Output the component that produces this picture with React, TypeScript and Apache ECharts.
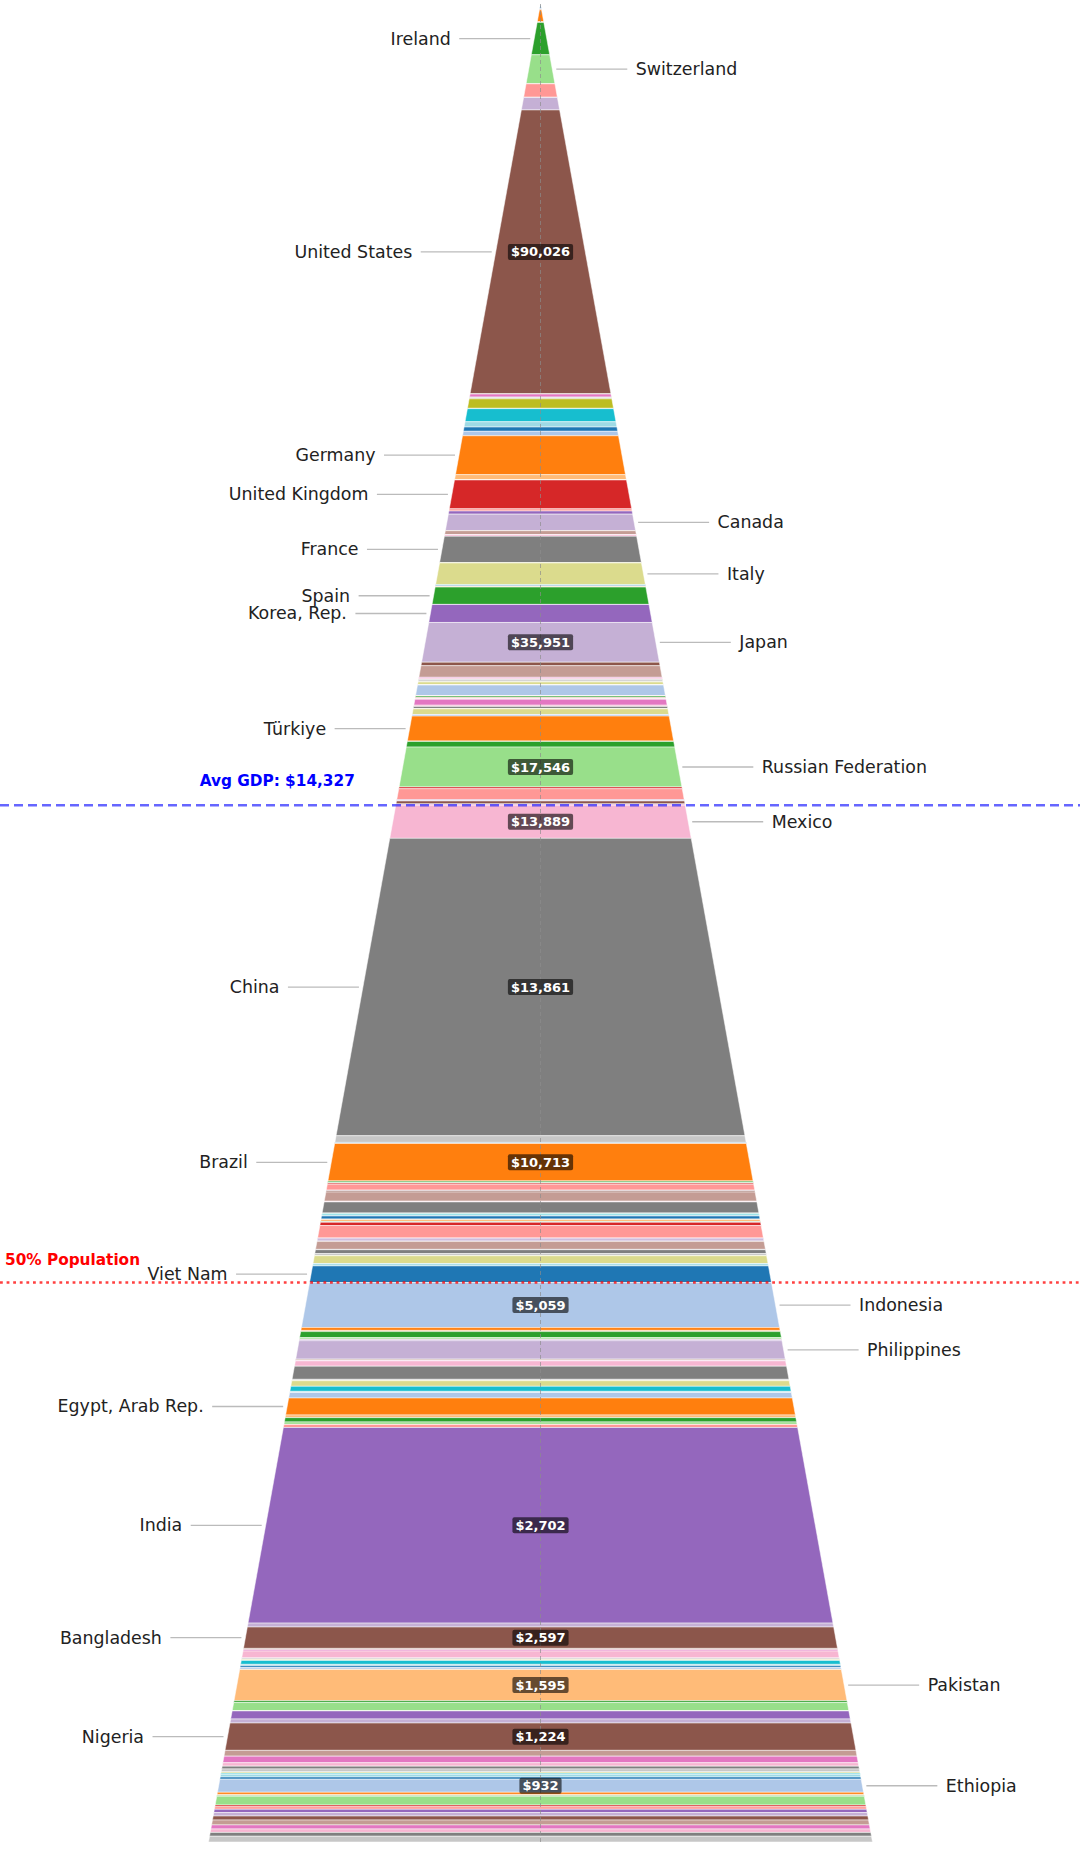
import React, { useEffect, useRef } from "react";
import * as echarts from "echarts";

// Countries ordered by GDP per capita (descending) with population in millions
const bands: [string, number][] = [
  // 0
  ["Monaco", 0.04], ["Liechtenstein", 0.04], ["Luxembourg", 0.66], ["Bermuda", 0.06], ["Ireland", 5.3],
  ["Switzerland", 8.9], ["Cayman Islands", 0.07], ["Norway", 5.5], ["Isle of Man", 0.08], ["Singapore", 5.9],
  // 10
  ["United States", 333], ["Iceland", 0.4], ["Denmark", 5.9], ["Channel Islands", 0.17], ["Faroe Islands", 0.05],
  ["Qatar", 2.7], ["Netherlands", 17.9], ["Macao SAR, China", 0.7], ["Australia", 25.5], ["Sweden", 10.5],
  // 20
  ["Israel", 8.5], ["Austria", 9.1], ["Germany", 83], ["Belgium", 11.8], ["Andorra", 0.08],
  ["Greenland", 0.06], ["United Kingdom", 67], ["New Zealand", 5.2], ["Hong Kong SAR, China", 7.5], ["Canada", 40.1],
  // 30
  ["Malta", 0.53], ["United Arab Emirates", 9.5], ["San Marino", 0.03], ["Kuwait", 4.3], ["France", 68.2],
  ["Bahamas, The", 0.41], ["Brunei Darussalam", 0.45], ["Italy", 58.8], ["Cyprus", 1.3], ["Aruba", 0.11],
  // 40
  ["Slovenia", 2.1], ["Bahrain", 1.5], ["Estonia", 1.37], ["Sint Maarten (Dutch part)", 0.04], ["Spain", 48.4],
  ["Guam", 0.17], ["Turks and Caicos Islands", 0.05], ["Virgin Islands (U.S.)", 0.1], ["Korea, Rep.", 51.7], ["Japan", 120],
  // 50
  ["Czechia", 10.9], ["Poland", 36.7], ["Lithuania", 2.9], ["Croatia", 3.9], ["Latvia", 1.9],
  ["Slovak Republic", 5.4], ["Guyana", 0.8], ["Hungary", 9.6], ["Seychelles", 0.1], ["Antigua and Barbuda", 0.09],
  // 60
  ["Barbados", 0.28], ["Saudi Arabia", 35], ["St. Kitts and Nevis", 0.05], ["Palau", 0.02], ["Panama", 4.5],
  ["Mauritius", 1.3], ["Uruguay", 3.4], ["Trinidad and Tobago", 1.5], ["St. Lucia", 0.18], ["Grenada", 0.13],
  // 70
  ["Dominica", 0.07], ["Nauru", 0.01], ["Chile", 19.6], ["Oman", 4.6], ["Bulgaria", 6.4],
  ["Montenegro", 0.62], ["Maldives", 0.52], ["Romania", 19], ["St. Vincent and the Grenadines", 0.1], ["Marshall Islands", 0.04],
  // 80
  ["Tuvalu", 0.01], ["Costa Rica", 5.2], ["Türkiye", 85.3], ["Equatorial Guinea", 1.7], ["Kazakhstan", 19.6],
  ["Russian Federation", 143.8], ["Serbia", 6.6], ["Argentina", 41], ["Botswana", 2.6], ["Gabon", 2.4],
  // 90
  ["Dominican Republic", 11.3], ["Suriname", 0.62], ["Georgia", 3.7], ["Mexico", 128.5], ["China", 1383],
  ["Malaysia", 36], ["Curaçao", 0.15], ["French Polynesia", 0.28], ["New Caledonia", 0.27], ["Northern Mariana Islands", 0.05],
  // 100
  ["Bosnia and Herzegovina", 3.2], ["North Macedonia", 1.8], ["Brazil", 206], ["Belize", 0.41], ["Belarus", 9.5],
  ["Tonga", 0.1], ["Libya", 7], ["Peru", 34.4], ["Kiribati", 0.13], ["Jamaica", 2.8],
  // 110
  ["Paraguay", 6.9], ["Colombia", 52.1], ["Fiji", 0.94], ["Armenia", 2.8], ["South Africa", 64],
  ["Samoa", 0.22], ["Namibia", 2.6], ["Bhutan", 0.79], ["El Salvador", 6.3], ["Turkmenistan", 6.5],
  // 120
  ["Guatemala", 18], ["Solomon Islands", 0.74], ["Eswatini", 1.2], ["Cuba", 11.2], ["Albania", 2.8],
  ["Moldova", 2.5], ["Ecuador", 18.3], ["Thailand", 71.8], ["Lebanon", 5.4], ["Tunisia", 12.5],
  // 130
  ["Mongolia", 3.4], ["Iraq", 46], ["Timor-Leste", 1.4], ["Cabo Verde", 0.6], ["Sri Lanka", 23],
  ["Jordan", 11.5], ["Djibouti", 1.1], ["Algeria", 46], ["Kosovo", 1.8], ["Bolivia", 12.5],
  // 140
  ["Viet Nam", 100], ["Indonesia", 277.5], ["Cambodia", 17.4], ["Lao PDR", 7.7], ["Morocco", 37.8],
  ["Papua New Guinea", 10.3], ["Comoros", 0.85], ["Lesotho", 2.3], ["Congo, Rep.", 6.1], ["Philippines", 117.3],
  // 150
  ["Mauritania", 4.9], ["Eritrea", 3.7], ["Gambia, The", 2.7], ["Ghana", 34.1], ["Iran, Islamic Rep.", 85],
  ["Kyrgyz Republic", 7.1], ["Guinea-Bissau", 2.1], ["Uzbekistan", 36.4], ["Angola", 33], ["Nicaragua", 6.8],
  // 160
  ["Vanuatu", 0.33], ["Ukraine", 36.7], ["Egypt, Arab Rep.", 112.7], ["Senegal", 17.8], ["Cameroon", 28.6],
  ["Zimbabwe", 16.7], ["Micronesia, Fed. Sts.", 0.11], ["Zambia", 20.6], ["India", 1408], ["Syrian Arab Republic", 30],
  // 170
  ["Bangladesh", 165], ["Honduras", 10.6], ["Tajikistan", 10.1], ["Kenya", 55.1], ["Sao Tome and Principe", 0.23],
  ["Togo", 9.1], ["Puerto Rico", 3.2], ["Finland", 5.6], ["Nepal", 30.9], ["Haiti", 11.7],
  // 180
  ["Benin", 13.7], ["Guinea", 14.2], ["Gibraltar", 0.03], ["Pakistan", 250], ["Rwanda", 14.1],
  ["Tanzania", 67.4], ["American Samoa", 0.04], ["British Virgin Islands", 0.03], ["Uganda", 65], ["Côte d'Ivoire", 33],
  // 190
  ["Nigeria", 223.8], ["Sudan", 48.1], ["Myanmar", 54.6], ["Venezuela, RB", 28.3], ["Mali", 23.3],
  ["Korea, Dem. People's Rep.", 26.2], ["St. Martin (French part)", 0.03], ["Azerbaijan", 10.1], ["Sierra Leone", 8.8], ["Burkina Faso", 22.7],
  // 200
  ["Chad", 18.3], ["Ethiopia", 110], ["Somalia", 18.1], ["Greece", 10.4], ["West Bank and Gaza", 5.2],
  ["Congo, Dem. Rep.", 75], ["South Sudan", 14], ["Malawi", 22], ["Niger", 28], ["Madagascar", 30],
  // 210
  ["Mozambique", 34], ["Afghanistan", 42], ["Yemen, Rep.", 35], ["Liberia", 30], ["Central African Republic", 33],
  ["Burundi", 50],
];

const leftLabels = [
  "Ireland", "United States", "Germany", "United Kingdom", "France", "Spain", "Korea, Rep.",
  "Türkiye", "China", "Brazil", "Viet Nam", "Egypt, Arab Rep.", "India", "Bangladesh", "Nigeria",
];
const rightLabels = [
  "Switzerland", "Canada", "Italy", "Japan", "Russian Federation", "Mexico",
  "Indonesia", "Philippines", "Pakistan", "Ethiopia",
];

const valueCountries = [
  "United States", "Japan", "Russian Federation", "Mexico", "China", "Brazil",
  "Indonesia", "India", "Bangladesh", "Pakistan", "Nigeria", "Ethiopia",
];
const valueGdp = [90026, 35951, 17546, 13889, 13861, 10713, 5059, 2702, 2597, 1595, 1224, 932];
const avgGdp = 14327;

const tab20 = [
  "#1f77b4", "#aec7e8", "#ff7f0e", "#ffbb78", "#2ca02c", "#98df8a", "#d62728", "#ff9896",
  "#9467bd", "#c5b0d5", "#8c564b", "#c49c94", "#e377c2", "#f7b6d2", "#7f7f7f", "#c7c7c7",
  "#bcbd22", "#dbdb8d", "#17becf", "#9edae5",
];

const FONT = "DejaVu Sans";

function buildOption() {
  const names = bands.map((b) => b[0]);
  const pops = bands.map((b) => b[1]);
  const total = pops.reduce((a, b) => a + b, 0);
  const before: number[] = [];
  const after: number[] = [];
  let cum = 0;
  pops.forEach((p) => {
    before.push(cum);
    cum += p;
    after.push(cum);
  });
  // scale: position along pyramid height ~ sqrt(cumulative population share)
  const sc = (v: number) => Math.sqrt(v / total);
  const bandData = pops.map((_, i) => [sc(before[i]), sc(after[i]), i]);

  // avg GDP boundary: first country below the average
  let avgIdx = 0;
  for (let i = 0; i < names.length; i++) {
    const k = valueCountries.indexOf(names[i]);
    if (k >= 0 && valueGdp[k] < avgGdp) { avgIdx = i; break; }
  }
  const sAvg = sc(before[avgIdx]);
  // 50% population boundary
  let halfIdx = 0;
  for (let i = 0; i < names.length; i++) {
    if (after[i] >= total / 2) { halfIdx = i; break; }
  }
  const sHalf = sc(before[halfIdx]);

  const labelItems: { idx: number; side: number }[] = [];
  leftLabels.forEach((n) => labelItems.push({ idx: names.indexOf(n), side: -1 }));
  rightLabels.forEach((n) => labelItems.push({ idx: names.indexOf(n), side: 1 }));
  const labelData = labelItems.map((l) => [(bandData[l.idx][0] + bandData[l.idx][1]) / 2, l.side, l.idx]);

  const valueData = valueCountries.map((n, k) => {
    const i = names.indexOf(n);
    return [(bandData[i][0] + bandData[i][1]) / 2, valueGdp[k]];
  });

  const XR = 539.5 / 332;

  return {
    animation: false,
    grid: { left: 1, right: 0, top: 4, bottom: 20 },
    xAxis: { type: "value", min: -XR, max: XR, show: false },
    yAxis: { type: "value", min: 0, max: 1, inverse: true, show: false },
    series: [
      {
        type: "custom",
        coordinateSystem: "cartesian2d",
        silent: true,
        clip: false,
        data: bandData,
        renderItem: (params: any, api: any) => {
          const t = api.value(0);
          const b = api.value(1);
          const i = api.value(2);
          const p1 = api.coord([-t, t]);
          const p2 = api.coord([t, t]);
          const p3 = api.coord([b, b]);
          const p4 = api.coord([-b, b]);
          return {
            type: "polygon",
            shape: { points: [p1, p2, p3, p4] },
            style: { fill: tab20[i % 20], stroke: "#ffffff", lineWidth: 0.5 },
          };
        },
      },
      {
        type: "custom",
        coordinateSystem: "cartesian2d",
        silent: true,
        clip: false,
        data: [[0, 0]],
        renderItem: (params: any, api: any) => {
          const top = api.coord([0, 0]);
          const bot = api.coord([0, 1]);
          const yAvg = api.coord([0, sAvg])[1];
          const yHalf = api.coord([0, sHalf])[1];
          const edgeAvg = api.coord([-sAvg, sAvg])[0];
          return {
            type: "group",
            children: [
              {
                type: "line",
                shape: { x1: top[0], y1: top[1], x2: bot[0], y2: bot[1] },
                style: { stroke: "rgba(140,140,140,0.75)", lineWidth: 0.9, lineDash: [4, 3] },
              },
              {
                type: "line",
                shape: { x1: 0, y1: yAvg, x2: 1080, y2: yAvg },
                style: { stroke: "rgba(0,0,255,0.6)", lineWidth: 2.5, lineDash: [9, 5] },
              },
              {
                type: "line",
                shape: { x1: 0, y1: yHalf, x2: 1080, y2: yHalf },
                style: { stroke: "rgba(255,0,0,0.75)", lineWidth: 2.6, lineDash: [2.8, 3.8] },
              },
              {
                type: "text",
                x: edgeAvg - 41,
                y: yAvg - 24,
                style: {
                  text: "Avg GDP: $" + avgGdp.toLocaleString("en-US"),
                  fill: "#0000ff",
                  fontSize: 15.3,
                  fontWeight: "bold",
                  fontFamily: FONT,
                  align: "right",
                  verticalAlign: "middle",
                },
              },
              {
                type: "text",
                x: 5,
                y: yHalf - 23,
                style: {
                  text: "50% Population",
                  fill: "#ff0000",
                  fontSize: 15.3,
                  fontWeight: "bold",
                  fontFamily: FONT,
                  align: "left",
                  verticalAlign: "middle",
                },
              },
            ],
          };
        },
      },
      {
        type: "custom",
        coordinateSystem: "cartesian2d",
        silent: true,
        clip: false,
        data: labelData,
        renderItem: (params: any, api: any) => {
          const s = api.value(0);
          const side = api.value(1);
          const idx = api.value(2);
          const e = api.coord([side * s, s]);
          const x1 = e[0] + side * 4;
          const x2 = x1 + side * 71;
          return {
            type: "group",
            children: [
              {
                type: "line",
                shape: { x1, y1: e[1], x2, y2: e[1] },
                style: { stroke: "#bbbbbb", lineWidth: 1.3 },
              },
              {
                type: "text",
                x: x2 + side * 8.5,
                y: e[1],
                style: {
                  text: names[idx],
                  fill: "#222222",
                  fontSize: 17.4,
                  fontFamily: FONT,
                  align: side < 0 ? "right" : "left",
                  verticalAlign: "middle",
                },
              },
            ],
          };
        },
      },
      {
        type: "custom",
        coordinateSystem: "cartesian2d",
        silent: true,
        clip: false,
        data: valueData,
        renderItem: (params: any, api: any) => {
          const s = api.value(0);
          const g = api.value(1);
          const c = api.coord([0, s]);
          return {
            type: "text",
            x: c[0],
            y: c[1],
            style: {
              text: "$" + Number(g).toLocaleString("en-US"),
              fill: "#ffffff",
              fontSize: 13,
              fontWeight: "bold",
              fontFamily: FONT,
              align: "center",
              verticalAlign: "middle",
              backgroundColor: "rgba(0,0,0,0.6)",
              padding: [2, 3, 1, 3],
              borderRadius: 2,
            },
          };
        },
      },
    ],
  };
}

export default function App() {
  const ref = useRef<HTMLDivElement>(null);
  useEffect(() => {
    if (!ref.current) return;
    const chart = echarts.init(ref.current, null, { renderer: "svg" });
    chart.setOption(buildOption() as any);
    return () => chart.dispose();
  }, []);
  return (
    <div
      ref={ref}
      style={{ position: "absolute", left: 0, top: 0, width: 1080, height: 1862, background: "#ffffff" }}
    />
  );
}
